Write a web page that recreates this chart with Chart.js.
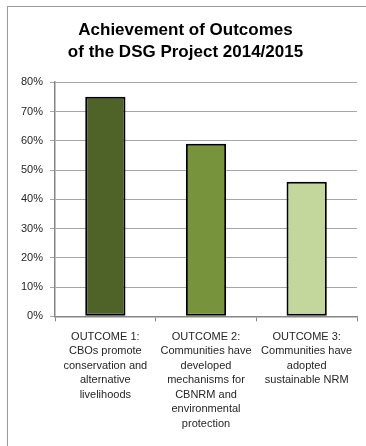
<!DOCTYPE html>
<html>
<head>
<meta charset="utf-8">
<script src="https://cdn.jsdelivr.net/npm/chart.js@4"></script>
<style>
  html, body { margin: 0; padding: 0; background: #fff; }
  #wrap { position: relative; width: 366px; height: 446px; overflow: hidden; }
  #frame { position: absolute; left: 7px; top: 6px; width: 400px; height: 500px; border: 1px solid #9a9a9a; box-sizing: border-box; }
  canvas { position: absolute; left: 0; top: 0; }
</style>
</head>
<body>
<div id="wrap">
  <div id="frame"></div>
  <canvas id="c" width="366" height="446"></canvas>
</div>
<script>
const categories = [
  ["OUTCOME 1:", "CBOs promote", "conservation and", "alternative", "livelihoods"],
  ["OUTCOME 2:", "Communities have", "developed", "mechanisms for", "CBNRM and", "environmental", "protection"],
  ["OUTCOME 3:", "Communities have", "adopted", "sustainable NRM"]
];
const values = [75, 59, 46];
const barColors = ["#4f6228", "#77933c", "#c3d69b"];
const yTicks = [0, 10, 20, 30, 40, 50, 60, 70, 80];
const titleLines = ["Achievement of Outcomes", "of the DSG Project 2014/2015"];

const FONT = "'Liberation Sans', Arial, sans-serif";

new Chart(document.getElementById('c'), {
  type: 'bar',
  data: {
    labels: categories,
    datasets: [{
      data: values,
      backgroundColor: barColors,
      borderColor: '#000',
      borderWidth: 2,
      borderSkipped: false,
      categoryPercentage: 0.8,
      barPercentage: 0.5
    }]
  },
  options: {
    responsive: false,
    animation: false,
    layout: { padding: { left: 14, right: 9, top: 19, bottom: 7 } },
    plugins: {
      legend: { display: false },
      tooltip: { enabled: false },
      title: {
        display: true,
        text: titleLines,
        color: '#000',
        font: { family: FONT, size: 17, weight: 'bold', lineHeight: 1.3 },
        padding: { top: 0, bottom: 19 }
      }
    },
    scales: {
      y: {
        min: 0, max: 80,
        afterBuildTicks: (axis) => { axis.ticks = yTicks.map(v => ({ value: v })); },
        ticks: {
          callback: (v) => v + '%',
          color: '#262626',
          font: { family: FONT, size: 11 },
          padding: 7
        },
        grid: { color: '#a6a6a6', lineWidth: 1, tickLength: 5, drawTicks: true },
        border: { color: '#868686', width: 1.5 }
      },
      x: {
        ticks: {
          color: '#262626',
          font: { family: FONT, size: 11, lineHeight: 1.32 },
          padding: 8,
          maxRotation: 0,
          minRotation: 0,
          autoSkip: false
        },
        grid: { drawOnChartArea: false, drawTicks: true, tickLength: 5, color: '#868686' },
        border: { color: '#868686', width: 1.5 }
      }
    }
  }
});
</script>
</body>
</html>
